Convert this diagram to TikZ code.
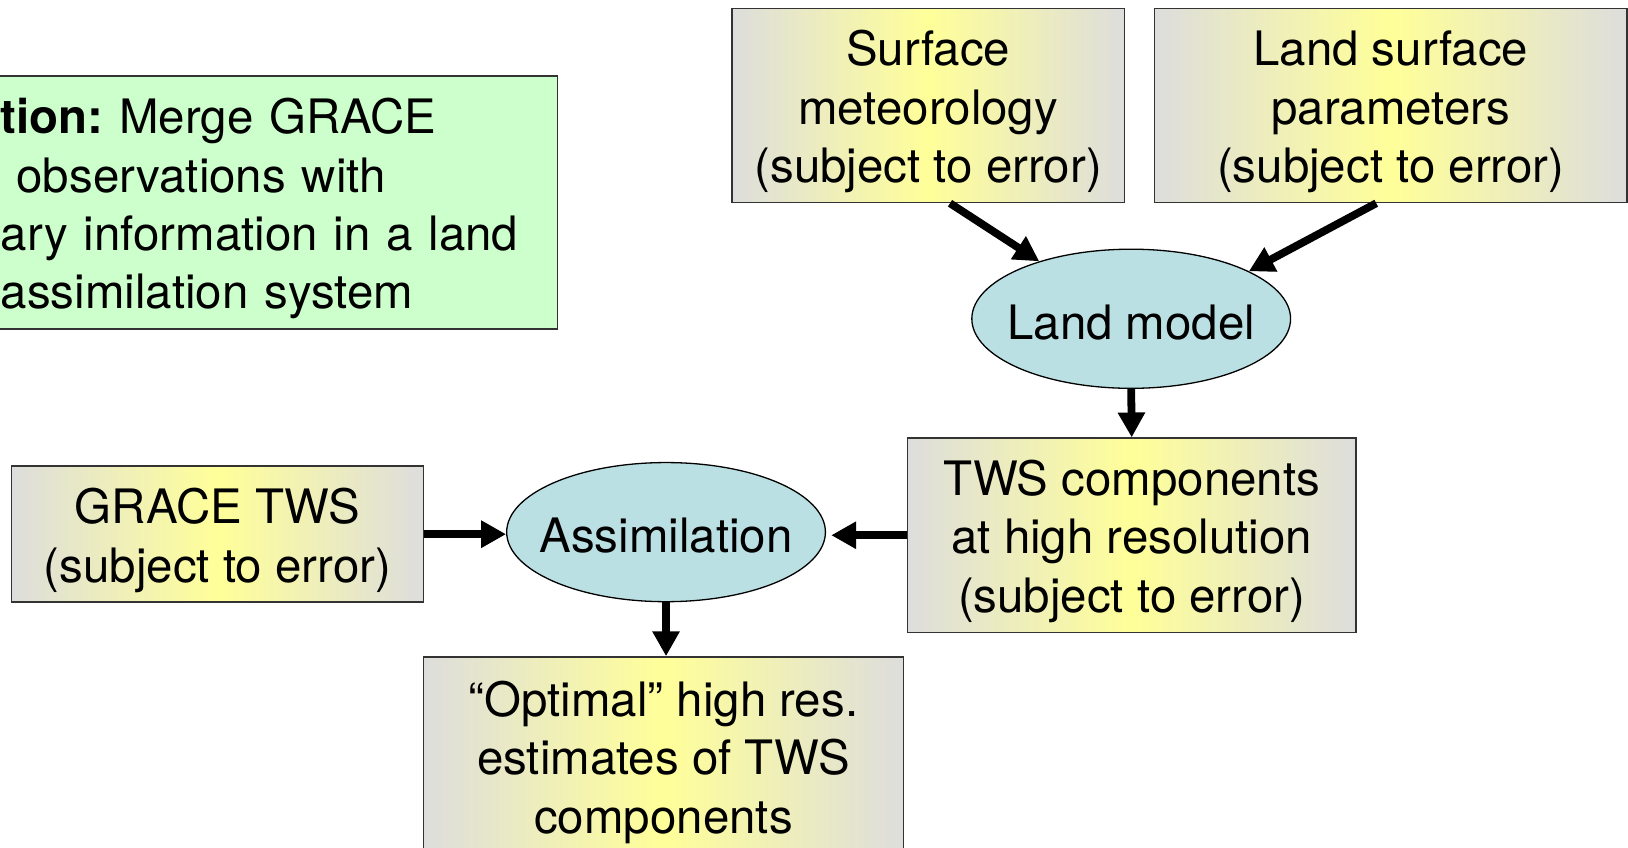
\documentclass[tikz,border=0pt]{standalone}
\usepackage{fontspec}
\setmainfont{TeX Gyre Heros}
\usetikzlibrary{shapes.geometric,arrows.meta}
\definecolor{boxgray}{HTML}{DDDDDD}
\definecolor{boxyellow}{HTML}{FFFF99}
\definecolor{modelblue}{HTML}{BBE0E3}
\definecolor{goalgreen}{HTML}{CCFFCC}
\definecolor{edgegray}{HTML}{333333}
\newcommand{\firstline}{\rule{0pt}{0.92cm}}
\begin{document}
\begin{tikzpicture}[
  font=\fontsize{26}{31.9}\selectfont,
  inputbox/.style={draw=edgegray, line width=0.03cm, left color=boxgray, right color=boxgray, middle color=boxyellow, align=center, inner sep=0pt},
  modelnode/.style={ellipse, draw=black, line width=0.025cm, fill=modelblue, inner xsep=-1cm, inner ysep=0pt, text height=0.8cm, text depth=0cm, minimum width=6.14cm, minimum height=2.68cm},
  flow/.style={line width=0.15cm, -{Triangle[length=0.48cm,width=0.5cm]}}
]
\useasboundingbox (0,0) rectangle (31.36,-16.33);
\node[draw=edgegray, line width=0.03cm, fill=goalgreen, align=left, text width=10.42cm, inner xsep=0.3cm, minimum height=4.88cm, anchor=west] (goal) at (-0.3,-3.9) {\firstline\textbf{tion:}\ Merge GRACE\\ \ observations with\\ ary information in a land\\ assimilation system};
\node[inputbox, minimum width=7.56cm, minimum height=3.74cm] (met) at (17.88,-2.03) {\firstline Surface\\ meteorology\\ (subject to error)};
\node[inputbox, minimum width=9.1cm, minimum height=3.74cm] (param) at (26.79,-2.03) {\firstline Land surface\\ parameters\\ (subject to error)};
\node[modelnode] (lsm) at (21.79,-6.14) {Land model};
\node[inputbox, minimum width=8.64cm, minimum height=3.74cm] (tws) at (21.8,-10.31) {\firstline TWS components\\ at high resolution\\ (subject to error)};
\node[modelnode] (assim) at (12.83,-10.25) {Assimilation};
\node[inputbox, minimum width=7.94cm, minimum height=2.62cm] (grace) at (4.19,-10.29) {\firstline GRACE TWS\\ (subject to error)};
\node[inputbox, minimum width=9.24cm, anchor=north] (opt) at (12.78,-12.64) {\rule{0pt}{1.15cm}“Optimal” high res.\\ estimates of TWS\\ components\rule[-1.39cm]{0pt}{0pt}};
\draw[flow] ([xshift=0.42cm]met.south) -- (lsm.148);
\draw[flow] ([xshift=-0.28cm]param.south) -- (lsm.22);
\draw[flow] (lsm.south) -- (tws.north);
\draw[flow, shorten >=0.1cm] (tws.west) -- (tws.west -| assim.east);
\draw[flow] (grace.east) -- (grace.east -| assim.west);
\draw[flow] (assim.south) -- (assim.south |- opt.north);
\end{tikzpicture}
\end{document}
